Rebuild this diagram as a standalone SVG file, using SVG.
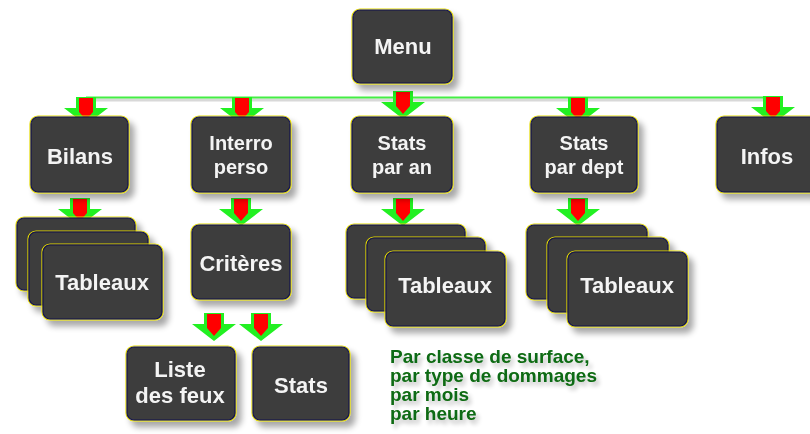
<svg xmlns="http://www.w3.org/2000/svg" width="810" height="434" viewBox="0 0 810 434">
<defs>
<filter id="sh" x="-20%" y="-20%" width="150%" height="160%">
<feGaussianBlur in="SourceAlpha" stdDeviation="3"/>
<feOffset dx="5" dy="6" result="b"/>
<feComponentTransfer><feFuncA type="linear" slope="0.35"/></feComponentTransfer>
<feMerge><feMergeNode/><feMergeNode in="SourceGraphic"/></feMerge>
</filter>
<filter id="tsh" x="-10%" y="-20%" width="130%" height="160%">
<feGaussianBlur in="SourceAlpha" stdDeviation="2"/>
<feOffset dx="3" dy="4"/>
<feComponentTransfer><feFuncA type="linear" slope="0.25"/></feComponentTransfer>
<feMerge><feMergeNode/><feMergeNode in="SourceGraphic"/></feMerge>
</filter>
<g id="arr">
<path d="M-10,0 H10 V11 H22 L0,28 L-22,11 H-10 Z" fill="#22f022"/>
<path d="M-7,1 H7 V15 L0,23 L-7,15 Z" fill="#ff0000"/>
</g>
</defs>
<style>
.y{fill:none;stroke:#e6dc00;stroke-width:1.2}
.n{fill:#3c3c3c;stroke:#14144e;stroke-width:1.2}
.t{fill:#f4f4f4;font-family:"Liberation Sans",Arial,sans-serif;font-weight:bold;font-size:22px;text-anchor:middle}
.t2{font-size:20px}
.g{fill:#0b6a12;font-family:"Liberation Sans",Arial,sans-serif;font-weight:bold;font-size:19px}
</style>
<rect width="810" height="434" fill="#ffffff"/>

<g id="connectors">
<line x1="86" y1="100" x2="773" y2="100" stroke="#d8d8d8" stroke-width="3"/>
<line x1="86" y1="97.5" x2="773" y2="97.5" stroke="#44ee44" stroke-width="2"/>
<use href="#arr" x="86" y="97"/>
<use href="#arr" x="242" y="97"/>
<use href="#arr" x="403" y="91"/>
<use href="#arr" x="578" y="97"/>
<use href="#arr" x="773" y="96"/>
<use href="#arr" x="80" y="198"/>
<use href="#arr" x="241" y="198"/>
<use href="#arr" x="403" y="198"/>
<use href="#arr" x="578" y="198"/>
<use href="#arr" x="214" y="313"/>
<use href="#arr" x="261" y="313"/>
</g>

<g id="menu" filter="url(#sh)">
<rect class="y" x="352" y="9" width="101" height="75" rx="8"/>
<rect class="n" x="353" y="10" width="99" height="73" rx="7"/>
<text class="t" x="403" y="54">Menu</text>
</g>
<g id="bilans" filter="url(#sh)">
<rect class="y" x="30" y="116" width="99" height="77" rx="8"/>
<rect class="n" x="31" y="117" width="97" height="75" rx="7"/>
<text class="t" x="80" y="164">Bilans</text>
</g>
<g id="interro" filter="url(#sh)">
<rect class="y" x="191" y="116" width="100" height="77" rx="8"/>
<rect class="n" x="192" y="117" width="98" height="75" rx="7"/>
<text class="t t2" x="241" y="150">Interro</text>
<text class="t t2" x="241" y="174">perso</text>
</g>
<g id="statsan" filter="url(#sh)">
<rect class="y" x="351" y="116" width="102" height="77" rx="8"/>
<rect class="n" x="352" y="117" width="100" height="75" rx="7"/>
<text class="t t2" x="402" y="150">Stats</text>
<text class="t t2" x="402" y="174">par an</text>
</g>
<g id="statsdept" filter="url(#sh)">
<rect class="y" x="530" y="116" width="108" height="77" rx="8"/>
<rect class="n" x="531" y="117" width="106" height="75" rx="7"/>
<text class="t t2" x="584" y="150">Stats</text>
<text class="t t2" x="584" y="174">par dept</text>
</g>
<g id="infos" filter="url(#sh)">
<rect class="y" x="716" y="116" width="102" height="77" rx="8"/>
<rect class="n" x="717" y="117" width="100" height="75" rx="7"/>
<text class="t" x="767" y="164">Infos</text>
</g>

<g id="tableaux1" filter="url(#sh)">
<rect class="y" x="16" y="217" width="120" height="74" rx="8"/>
<rect class="n" x="17" y="218" width="118" height="72" rx="7"/>
<rect class="y" x="28" y="231" width="121" height="75" rx="8"/>
<rect class="n" x="29" y="232" width="119" height="73" rx="7"/>
<rect class="y" x="42" y="244" width="121" height="76" rx="8"/>
<rect class="n" x="43" y="245" width="119" height="74" rx="7"/>
<text class="t" x="102" y="290">Tableaux</text>
</g>
<g id="criteres" filter="url(#sh)">
<rect class="y" x="191" y="224" width="100" height="76" rx="8"/>
<rect class="n" x="192" y="225" width="98" height="74" rx="7"/>
<text class="t" x="241" y="271">Critères</text>
</g>
<g id="liste" filter="url(#sh)">
<rect class="y" x="126" y="346" width="110" height="75" rx="8"/>
<rect class="n" x="127" y="347" width="108" height="73" rx="7"/>
<text class="t" x="180" y="377">Liste</text>
<text class="t" x="180" y="403">des feux</text>
</g>
<g id="stats" filter="url(#sh)">
<rect class="y" x="252" y="346" width="98" height="75" rx="8"/>
<rect class="n" x="253" y="347" width="96" height="73" rx="7"/>
<text class="t" x="301" y="393">Stats</text>
</g>
<g id="tableaux2" filter="url(#sh)">
<rect class="y" x="346" y="224" width="120" height="75" rx="8"/>
<rect class="n" x="347" y="225" width="118" height="73" rx="7"/>
<rect class="y" x="366" y="237" width="120" height="75" rx="8"/>
<rect class="n" x="367" y="238" width="118" height="73" rx="7"/>
<rect class="y" x="385" y="251" width="121" height="76" rx="8"/>
<rect class="n" x="386" y="252" width="119" height="74" rx="7"/>
<text class="t" x="445" y="293">Tableaux</text>
</g>
<g id="tableaux3" filter="url(#sh)">
<rect class="y" x="526" y="224" width="122" height="76" rx="8"/>
<rect class="n" x="527" y="225" width="120" height="74" rx="7"/>
<rect class="y" x="547" y="237" width="122" height="76" rx="8"/>
<rect class="n" x="548" y="238" width="120" height="74" rx="7"/>
<rect class="y" x="567" y="251" width="121" height="76" rx="8"/>
<rect class="n" x="568" y="252" width="119" height="74" rx="7"/>
<text class="t" x="627" y="293">Tableaux</text>
</g>

<g id="note" filter="url(#tsh)">
<text class="g" x="390" y="363">Par classe de surface,</text>
<text class="g" x="390" y="382">par type de dommages</text>
<text class="g" x="390" y="401">par mois</text>
<text class="g" x="390" y="420">par heure</text>
</g>
</svg>
